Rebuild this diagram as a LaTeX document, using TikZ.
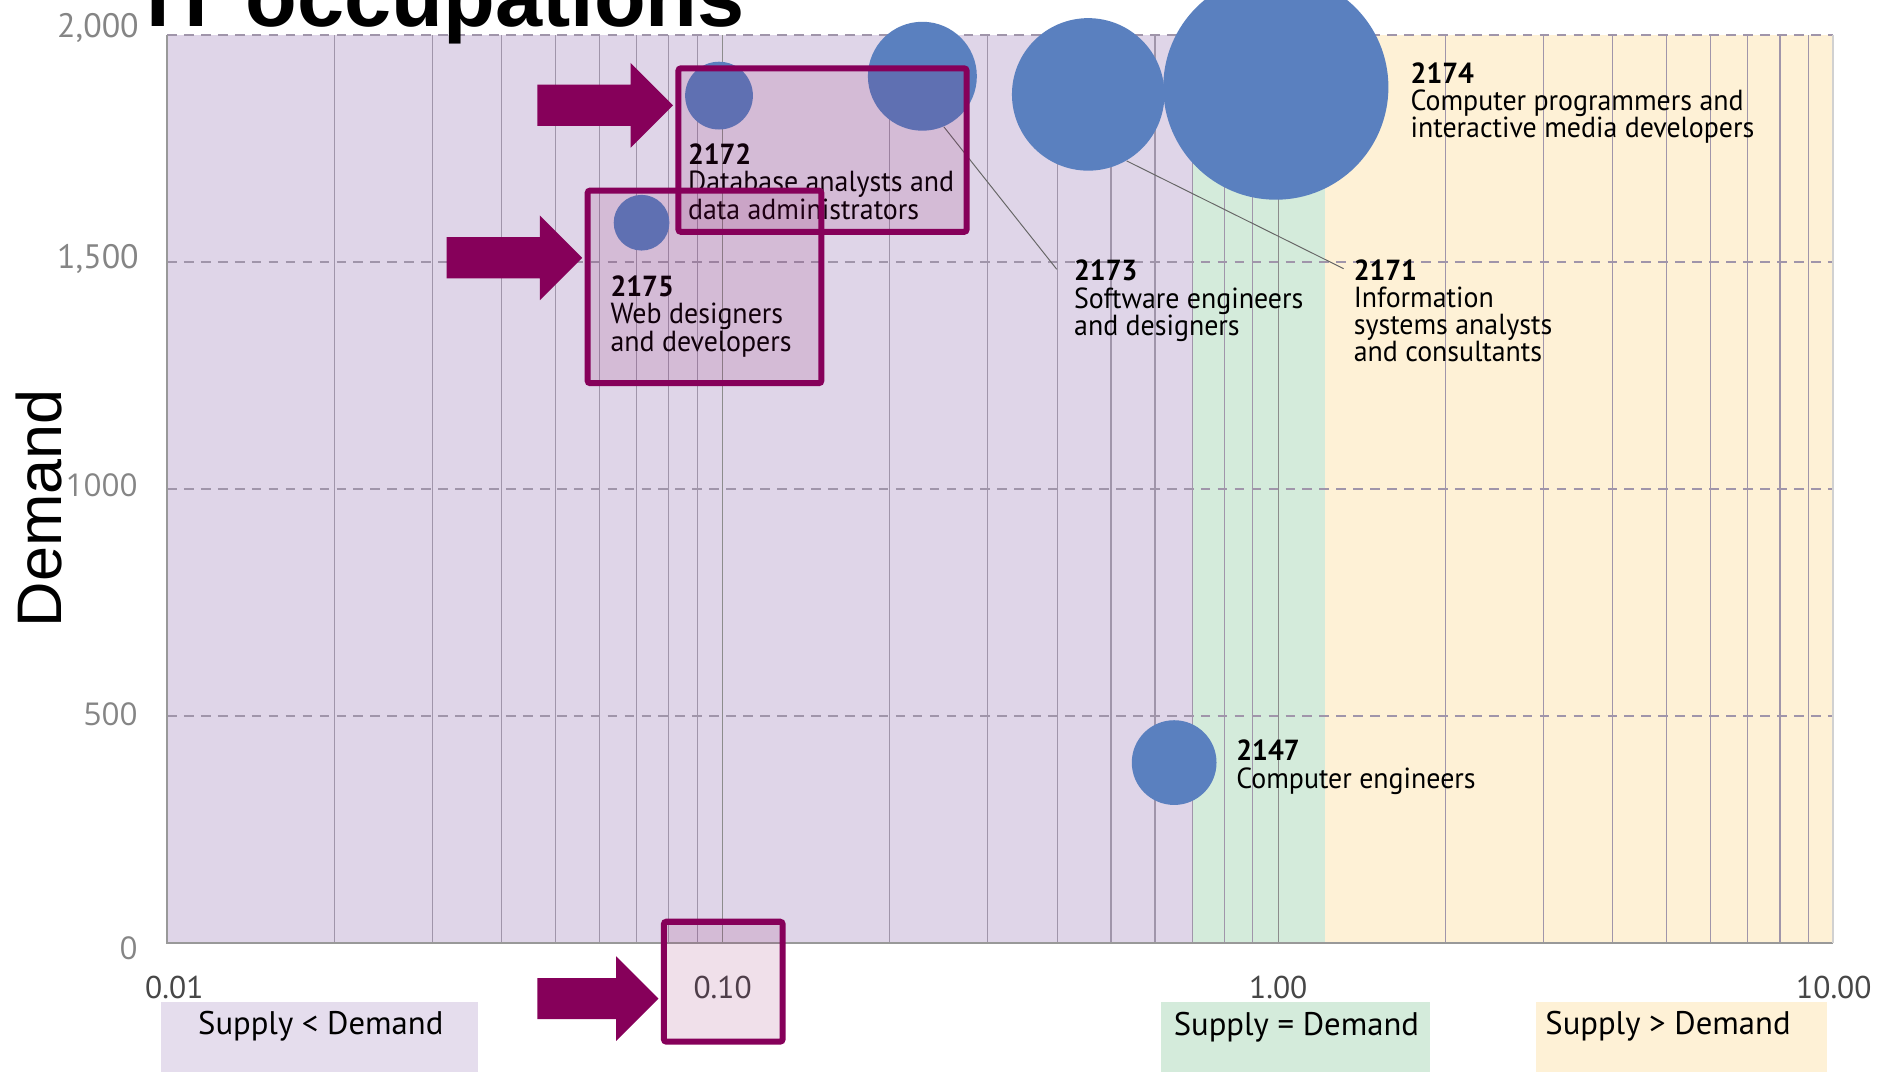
\documentclass[tikz,border=0pt]{standalone}
\usepackage{fontspec}
\setmainfont{PT Sans}
\newfontfamily\occfont{PT Sans}[FakeStretch=0.96]
\newfontfamily\headfont{Liberation Sans}
\newfontfamily\tickfont{Open Sans}

\definecolor{lowfill}{HTML}{DFD5E8}
\definecolor{lowleg}{HTML}{E5DDED}
\definecolor{eqfill}{HTML}{D4EBDB}
\definecolor{highfill}{HTML}{FEF1D6}
\definecolor{bubblue}{HTML}{5A80BF}
\definecolor{hlmaroon}{HTML}{86005A}
\definecolor{gridgray}{HTML}{A095AA}

\tikzset{
  bubble/.style={circle, fill=bubblue, inner sep=0pt},
  occlabel/.style={anchor=base west, align=left, inner sep=0pt,
    font=\occfont\fontsize{12}{11.25}\selectfont},
  ytick/.style={anchor=east, inner sep=0pt, text=black!48,
    font=\fontsize{14}{14}\selectfont},
  xtick/.style={inner sep=0pt, text=black!72, font=\fontsize{13}{13}\selectfont},
  legtext/.style={inner sep=0pt, font=\fontsize{13.5}{13.5}\selectfont},
  vgrid/.style={gridgray, line width=0.45pt},
  hgrid/.style={gridgray, line width=0.7pt, dash pattern=on 4pt off 3pt},
  leader/.style={black!60, line width=0.4pt},
  hlbox/.style={draw=hlmaroon, line width=2.5pt, rounded corners=1pt,
    fill=hlmaroon, fill opacity=0.12, inner sep=0pt},
  hlarrow/.pic={\fill[hlmaroon] (-#1,-17) -- (-35,-17) -- (-35,-35) -- (0,0)
    -- (-35,35) -- (-35,17) -- (-#1,17) -- cycle;}
}

\begin{document}
\setlength{\lineskiplimit}{-20pt}
\begin{tikzpicture}[x=0.5pt, y=-0.5pt]
\clip (0,0) rectangle (1568,886);
\fill[white] (0,0) rectangle (1568,886);

% zones
\fill[lowfill] (138,29) rectangle (985,779);
\fill[eqfill] (985,29) rectangle (1095,779);
\fill[highfill] (1095,29) rectangle (1514,779);

\foreach \d in {0,1,2}{
  \foreach \k in {2,...,9}{
    \pgfmathsetmacro\gx{138+459*(\d+ln(\k)/ln(10))}
    \draw[vgrid] (\gx,29) -- (\gx,779);
  }
}
\foreach \gx in {597,1056}
  \draw[vgrid, black!45] (\gx,29) -- (\gx,779);
\foreach \gy in {29,216.5,404,591.5}
  \draw[hgrid] (138,\gy) -- (1514,\gy);
\draw[black!40, line width=0.8pt] (138,29) -- (138,779) -- (1514,779);
\draw[black!18, line width=0.8pt] (1514,29) -- (1514,779);

% axes
\node[ytick] (y2000) at (115,23) {2,000};
\node[ytick] (y1500) at (115,214) {1,500};
\node[ytick, font=\tickfont\fontsize{13}{13}\selectfont] (y1000) at (114,401) {1000};
\node[ytick, font=\tickfont\fontsize{13}{13}\selectfont] (y500) at (114,590) {500};
\node[ytick, font=\tickfont\fontsize{13}{13}\selectfont] (y0) at (114,783) {0};
\node[xtick] (x001) at (144,816) {0.01};
\node[xtick] (x010) at (597,816) {0.10};
\node[xtick] (x100) at (1056,816) {1.00};
\node[xtick] (x1000) at (1515,816) {10.00};
\node[rotate=90, anchor=base, inner sep=0pt, font=\headfont\fontsize{26}{26}\selectfont]
  (ylab) at (51,420) {Demand};
\node[anchor=base west, inner sep=0pt, font=\headfont\bfseries\fontsize{35}{35}\selectfont]
  (title) at (121,22) {IT occupations};

% legend
\fill[lowleg] (133,828) rectangle (395,886);
\fill[eqfill] (959,828) rectangle (1181,886);
\fill[highfill] (1269,828) rectangle (1509,886);
\node[legtext] (leglow) at (265,848) {Supply < Demand};
\node[legtext] (legeq) at (1071,849) {Supply = Demand};
\node[legtext] (leghigh) at (1378,848) {Supply > Demand};

% bubbles
\node[bubble, minimum size=28pt] (b2172) at (594,79) {};
\node[bubble, minimum size=23pt] (b2175) at (530,184) {};
\node[bubble, minimum size=45pt] (b2173) at (762,63) {};
\node[bubble, minimum size=63pt] (b2171) at (899,78) {};
\node[bubble, minimum size=93pt] (b2174) at (1054,72) {};
\node[bubble, minimum size=35pt] (b2147) at (970,630) {};

% base = last line
\node[occlabel] (l2172) at (568,181) {\textbf{2172}\\Database analysts and\\data administrators};
\node[occlabel] (l2175) at (504,290) {\textbf{2175}\\Web designers\\and developers};
\node[occlabel] (l2173) at (887,277) {\textbf{2173}\\Software engineers\\and designers};
\node[occlabel] (l2171) at (1118,299) {\textbf{2171}\\Information\\systems analysts\\and consultants};
\node[occlabel] (l2174) at (1165,114) {\textbf{2174}\\Computer programmers and\\interactive media developers};
\node[occlabel] (l2147) at (1021,651) {\textbf{2147}\\Computer engineers};

\draw[leader] (b2173.-67) -- ([shift={(-14,8)}]l2173.north west);
\draw[leader] (b2171.-60) -- ([shift={(-8,8)}]l2171.north west);

% highlights
\node[hlbox, anchor=north west, minimum width=119pt, minimum height=67.5pt] (boxA) at (558,54) {};
\node[hlbox, anchor=north west, minimum width=96.5pt, minimum height=79.5pt] (boxB) at (483,155) {};
\node[hlbox, anchor=north west, minimum width=49pt, minimum height=49.5pt] (boxC) at (546,759) {};
\pic at (556,87) {hlarrow=112};
\pic at (481,213) {hlarrow=112};
\pic at (544,825) {hlarrow=100};
\end{tikzpicture}
\end{document}
